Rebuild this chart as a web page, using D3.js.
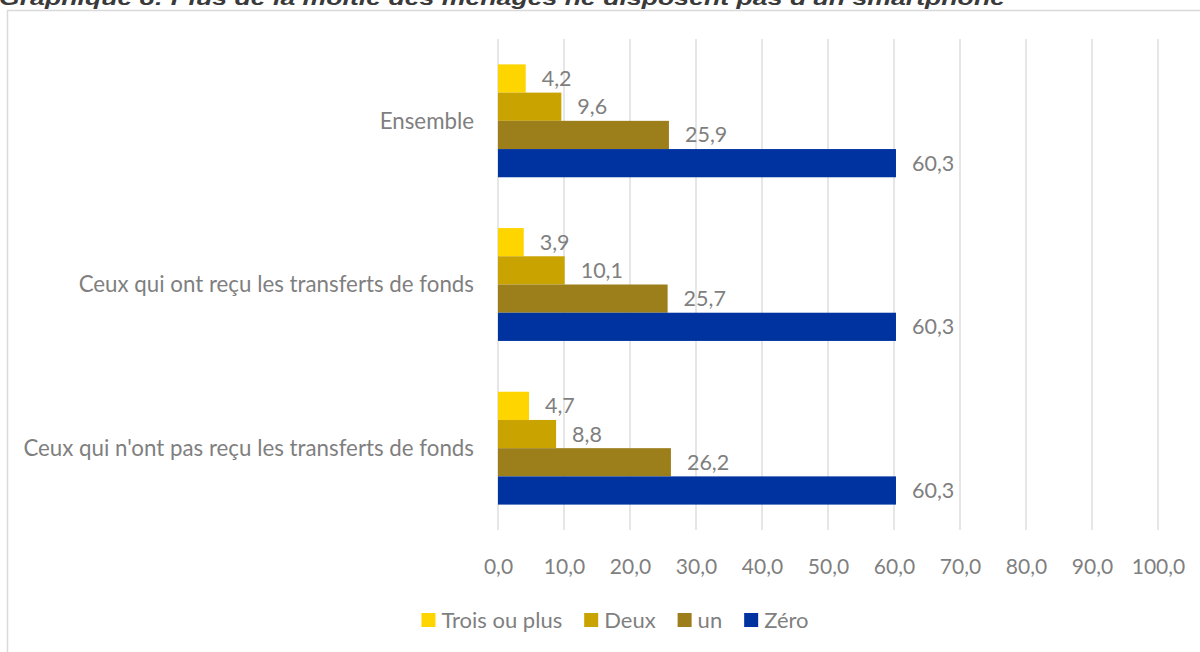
<!DOCTYPE html>
<html>
<head>
<meta charset="utf-8">
<script src="https://cdn.jsdelivr.net/npm/d3@7"></script>
<style>
  body { margin: 0; background: #fff; overflow: hidden; }
  text { font-family: Lato, "Noto Sans", sans-serif; }
</style>
</head>
<body>
<div id="chart"></div>
<script>
// data
const categories = [
  "Ensemble",
  "Ceux qui ont reçu les transferts de fonds",
  "Ceux qui n'ont pas reçu les transferts de fonds"
];
const seriesNames = ["Trois ou plus", "Deux", "un", "Zéro"];
const troisOuPlus = [4.2, 3.9, 4.7];
const deux = [9.6, 10.1, 8.8];
const un = [25.9, 25.7, 26.2];
const zero = [60.3, 60.3, 60.3];
const xTicks = [0, 10, 20, 30, 40, 50, 60, 70, 80, 90, 100];
const colors = ["#ffd500", "#c9a300", "#9c7e1a", "#0033a0"];

const title = "Graphique 8: Plus de la moitié des ménages ne disposent pas d'un smartphone";

const width = 1200;
const height = 652;
const grey = "#7f7f7f";
const fmt = v => d3.format(".1f")(v).replace(".", ",");

const values = [troisOuPlus, deux, un, zero];
const rows = categories.map((c, i) => ({
  name: c,
  bars: seriesNames.map((s, j) => ({ series: s, value: values[j][i], color: colors[j] }))
}));

const svg = d3.select('#chart')
  .append('svg')
  .attr('width', width)
  .attr('height', height);

// chart frame (right and bottom edges fall outside the picture)
svg.append('rect')
  .attr('x', 7.5).attr('y', 10.5)
  .attr('width', 1300).attr('height', 700)
  .attr('fill', 'none')
  .attr('stroke', '#d9d9d9')
  .attr('stroke-width', 1.5);

// title, cut by the top edge as in the source
svg.append('text')
  .attr('x', -1).attr('y', 5)
  .attr('textLength', 1006)
  .attr('lengthAdjust', 'spacingAndGlyphs')
  .style('font-family', '"Liberation Sans", Arial, sans-serif')
  .style('font-size', '21px')
  .style('font-weight', 'bold')
  .style('font-style', 'italic')
  .attr('fill', '#3a3a3a')
  .text(title);

const x = d3.scaleLinear().domain([0, 100]).range([498, 1158]);
const y0 = d3.scaleBand().domain(categories).range([39, 530]).padding(0);
const y1 = d3.scaleBand().domain(seriesNames).range([0, y0.bandwidth()])
  .paddingInner(0).paddingOuter(0.9);

// gridlines
svg.append('g')
  .selectAll('line')
  .data(xTicks)
  .enter()
  .append('line')
  .attr('x1', d => x(d)).attr('x2', d => x(d))
  .attr('y1', 39).attr('y2', 530)
  .attr('stroke', '#dedede')
  .attr('stroke-width', 1.5);

// x axis labels
const xAxis = svg.append('g')
  .attr('transform', 'translate(0,556)')
  .call(d3.axisBottom(x).tickValues(xTicks).tickSize(0).tickFormat(fmt));
xAxis.select('.domain').remove();
xAxis.selectAll('text')
  .attr('dy', '0.71em')
  .style('font-family', 'Lato, sans-serif')
  .style('font-size', '21px')
  .attr('fill', grey);

// category labels
svg.append('g')
  .selectAll('text')
  .data(categories)
  .enter()
  .append('text')
  .attr('x', 474)
  .attr('y', d => y0(d) + y0.bandwidth() / 2)
  .attr('dy', '0.35em')
  .attr('text-anchor', 'end')
  .style('font-size', '22.3px')
  .attr('fill', grey)
  .text(d => d);

const groups = svg.append('g')
  .selectAll('g')
  .data(rows)
  .enter()
  .append('g')
  .attr('transform', d => 'translate(0,' + y0(d.name) + ')');

groups.selectAll('rect')
  .data(d => d.bars)
  .enter()
  .append('rect')
  .attr('x', x(0))
  .attr('y', d => y1(d.series))
  .attr('width', d => x(d.value) - x(0))
  .attr('height', y1.bandwidth())
  .attr('fill', d => d.color);

groups.selectAll('text')
  .data(d => d.bars)
  .enter()
  .append('text')
  .attr('x', d => x(d.value) + 16)
  .attr('y', d => y1(d.series) + y1.bandwidth() / 2)
  .attr('dy', '0.35em')
  .style('font-size', '21.5px')
  .attr('fill', grey)
  .text(d => fmt(d.value));

// legend, centred under the plot
const legend = svg.append('g').attr('transform', 'translate(0,620)');
const items = legend.selectAll('g')
  .data(seriesNames)
  .enter()
  .append('g');
items.append('rect')
  .attr('y', -7)
  .attr('width', 14).attr('height', 14)
  .attr('fill', (d, i) => colors[i]);
items.append('text')
  .attr('x', 20)
  .attr('dy', '0.35em')
  .style('font-size', '22px')
  .attr('fill', grey)
  .text(d => d);

let offset = 0;
const widths = [];
items.each(function() {
  const w = 20 + this.querySelector('text').getComputedTextLength();
  widths.push(w);
});
const total = d3.sum(widths) + 22 * (widths.length - 1);
let start = 615 - total / 2;
items.attr('transform', (d, i) => {
  const t = 'translate(' + (start + offset) + ',0)';
  offset += widths[i] + 22;
  return t;
});
</script>
</body>
</html>
